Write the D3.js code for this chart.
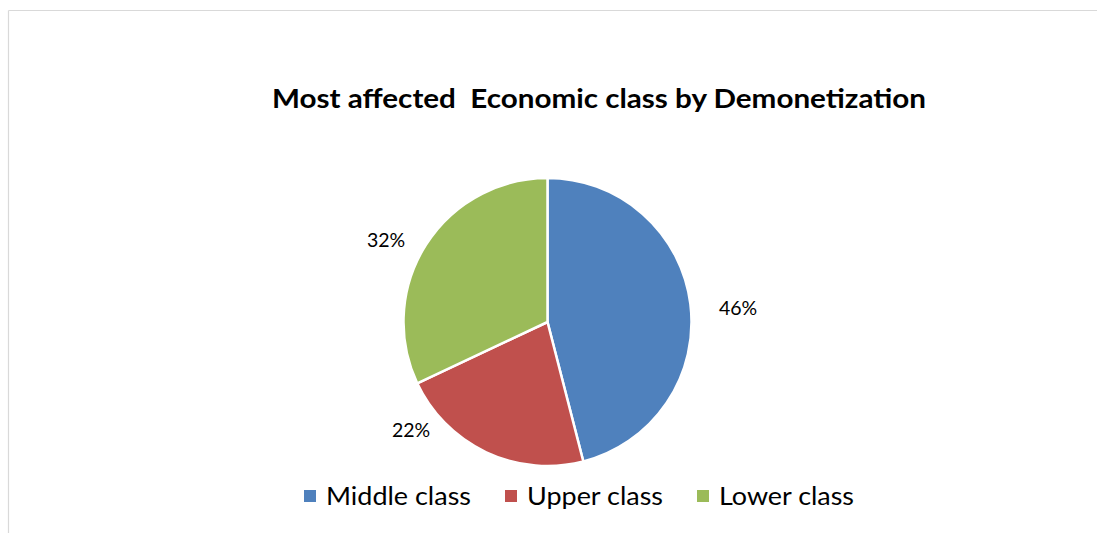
<!DOCTYPE html>
<html><head><meta charset="utf-8">
<script src="https://cdn.jsdelivr.net/npm/d3@7"></script>
<style>body{margin:0;background:#fff;}svg{display:block;}</style>
</head><body>
<svg id="c" width="1097" height="533"></svg>
<script>
const categories = ["Middle class", "Upper class", "Lower class"];
const values = [46, 22, 32];
const labels = ["46%", "22%", "32%"];
const colors = ["#4F81BD", "#C0504D", "#9BBB59"];
const title = "Most affected  Economic class by Demonetization";

const svg = d3.select("#c");
const font = "Lato, 'Open Sans', sans-serif";

// frame
svg.append("line").attr("x1", 8.5).attr("y1", 10.5).attr("x2", 1097).attr("y2", 10.5).attr("stroke", "#d9d9d9").attr("stroke-width", 1.2);
svg.append("line").attr("x1", 8.5).attr("y1", 10.5).attr("x2", 8.5).attr("y2", 533).attr("stroke", "#d9d9d9").attr("stroke-width", 1.2);

// title
svg.append("text").attr("x", 272).attr("y", 108).attr("font-family", font).attr("font-weight", "bold")
  .attr("font-size", 27).attr("fill", "#000").attr("textLength", 654).attr("lengthAdjust", "spacingAndGlyphs")
  .style("white-space", "pre").text(title);

// pie
const cx = 547.5, cy = 322, r = 144;
const pie = d3.pie().sort(null).value(d => d)(values);
const arc = d3.arc().innerRadius(0).outerRadius(r);
const g = svg.append("g").attr("transform", `translate(${cx},${cy})`);
g.selectAll("path").data(pie).join("path").attr("d", arc)
  .attr("fill", (d, i) => colors[i]).attr("stroke", "#fff").attr("stroke-width", 2.5).attr("stroke-linejoin", "round");

// labels
const lblPos = [[738, 308], [411, 430], [386, 240]];
svg.selectAll("text.lbl").data(pie).join("text").attr("class", "lbl")
  .attr("x", (d, i) => lblPos[i][0]).attr("y", (d, i) => lblPos[i][1] + 7)
  .attr("text-anchor", "middle").attr("font-family", font).attr("font-size", 19.5).attr("fill", "#000")
  .text((d, i) => labels[i]);

// legend
const legX = [304, 505, 697];
const legW = [145, 136, 135];
const lg = svg.selectAll("g.leg").data(categories).join("g").attr("class", "leg")
  .attr("transform", (d, i) => `translate(${legX[i]},0)`);
lg.append("rect").attr("x", 0).attr("y", 490).attr("width", 12).attr("height", 12).attr("fill", (d, i) => colors[i]);
lg.append("text").attr("x", 22).attr("y", 504.5).attr("font-family", font).attr("font-size", 25).attr("fill", "#000")
  .attr("lengthAdjust", "spacingAndGlyphs").attr("textLength", (d, i) => legW[i]).text(d => d);
</script>
</body></html>
